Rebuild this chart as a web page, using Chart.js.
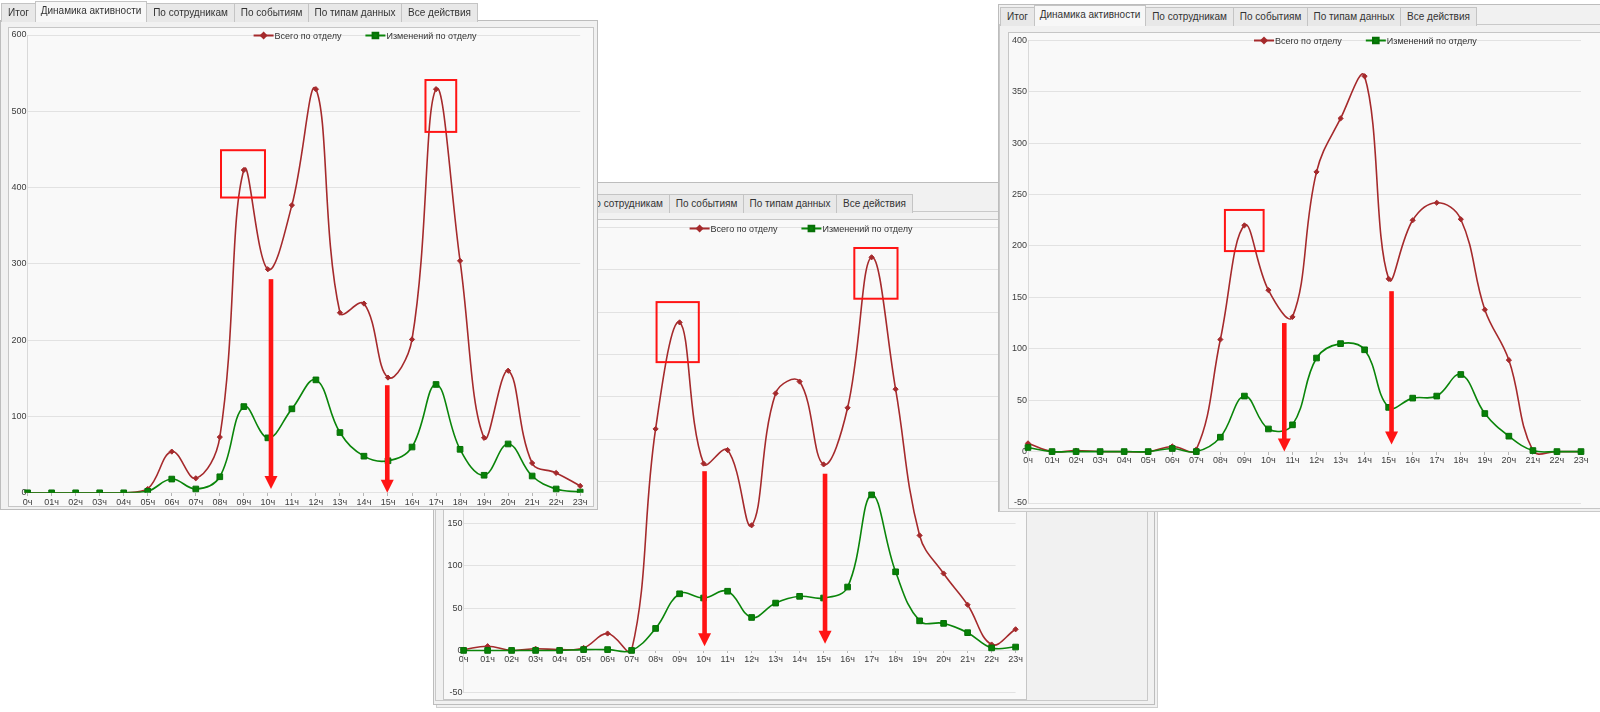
<!DOCTYPE html>
<html>
<head>
<meta charset="utf-8">
<script src="https://cdn.jsdelivr.net/npm/chart.js@4/dist/chart.umd.min.js"></script>
<style>
    body {
        margin: 0;
        width: 1600px;
        height: 712px;
        background: #ffffff;
        position: relative;
        overflow: hidden;
        font-family: "Liberation Sans", Arial, sans-serif;
    }
    .win {
        position: absolute;
        left: 0;
        top: 0;
        width: 1600px;
        height: 712px;
    }
    .frame {
        position: absolute;
        background: #f1f1f1;
        border: 1px solid #bdbdbd;
    }
    .line {
        position: absolute;
        border: 1px solid #c9c9c9;
    }
    .tabs {
        position: absolute;
        display: flex;
        align-items: flex-end;
    }
    .tab {
        box-sizing: border-box;
        height: 19px;
        line-height: 18px;
        border: 1px solid #c4c4c4;
        border-bottom: none;
        margin-right: -1px;
        background: #e8e8e8;
        color: #333;
        font-size: 10px;
        text-align: center;
        white-space: nowrap;
        overflow: hidden;
    }
    .tab.active {
        height: 21px;
        background: #f7f7f7;
    }
    .box {
        position: absolute;
        border: 1px solid #c6c6c6;
        background: #f9f9f9;
    }
    canvas { display: block; }
</style>
</head>
<body>

<!-- middle window (behind) -->
<div class="win" style="z-index:1">
    <div class="frame" style="left:436px;top:186px;width:720px;height:520px;border-color:#cfcfcf"></div>
    <div class="frame" style="left:433px;top:182px;width:720px;height:521px"></div>
    <div class="line" style="left:435px;top:211px;width:711px;height:488px"></div>
    <div class="tabs" id="tabsMid" style="left:436px;top:192px"></div>
    <div class="box" style="left:443px;top:219px;width:582px;height:479px"><canvas id="chartMid" width="582" height="479"></canvas></div>
</div>

<!-- left window -->
<div class="win" style="z-index:2;width:600px;height:512px">
    <div class="frame" style="left:0;top:20px;width:596px;height:488px"></div>
    <div class="tabs" id="tabsLeft" style="left:1px;top:1px"></div>
    <div class="box" style="left:8px;top:27px;width:584px;height:478px"><canvas id="chartLeft" width="584" height="478"></canvas></div>
</div>

<!-- right window -->
<div class="win" style="z-index:3;left:990px;width:610px;height:515px">
    <div class="frame" style="left:8px;top:4px;width:610px;height:506px"></div>
    <div class="line" style="left:9px;top:24px;width:610px;height:486px;border-right:none"></div>
    <div class="tabs" id="tabsRight" style="left:10px;top:5px"></div>
    <div class="box" style="left:18px;top:32px;width:591px;height:475px"><canvas id="chartRight" width="591" height="475"></canvas></div>
</div>

<script>
// ---- data ----
const tabNames = ['Итог', 'Динамика активности', 'По сотрудникам', 'По событиям', 'По типам данных', 'Все действия'];
const tabWidths = [35, 112, 89, 75, 94, 77];

const hours = ['0ч', '01ч', '02ч', '03ч', '04ч', '05ч', '06ч', '07ч', '08ч', '09ч', '10ч', '11ч',
    '12ч', '13ч', '14ч', '15ч', '16ч', '17ч', '18ч', '19ч', '20ч', '21ч', '22ч', '23ч'];
const seriesNames = ['Всего по отделу', 'Изменений по отделу'];

// left screenshot
const leftTotal = [0, 0, 0, 0, 0, 5, 54, 19, 73, 423, 293, 377, 529, 236, 248, 151, 201, 529, 304, 72, 160, 39, 26, 9];
const leftChanged = [0, 0, 0, 0, 0, 2, 18, 5, 21, 113, 72, 110, 148, 79, 48, 42, 60, 142, 57, 23, 64, 22, 5, 1];
const leftTicks = [0, 100, 200, 300, 400, 500, 600];

// middle screenshot
const midTotal = [1, 5, 0, 2, 1, 3, 20, 0, 262, 388, 221, 237, 148, 304, 318, 220, 287, 465, 309, 136, 91, 54, 7, 25];
const midChanged = [0, 0, 0, 0, 0, 1, 1, 0, 26, 67, 62, 70, 39, 56, 64, 62, 75, 184, 93, 35, 32, 21, 3, 4];
const midTicks = [-50, 0, 50, 100, 150, 200, 250, 300, 350, 400, 450, 500];

// right screenshot
const rightTotal = [8, 0, 1, 0, 0, 0, 5, 2, 109, 220, 157, 131, 272, 324, 365, 168, 225, 242, 226, 138, 89, 1, 0, 0];
const rightChanged = [4, 0, 0, 0, 0, 0, 3, 0, 14, 54, 22, 26, 91, 105, 99, 43, 52, 54, 75, 37, 15, 1, 0, 0];
const rightTicks = [-50, 0, 50, 100, 150, 200, 250, 300, 350, 400];

// red marks, in axis units (category index / value)
const leftBoxes = [{ x0: 8.05, x1: 9.88, y0: 387, y1: 449 }, { x0: 16.56, x1: 17.84, y0: 473, y1: 541 }];
const leftArrows = [{ x: 10.13, from: 280, to: 5 }, { x: 14.97, from: 141, to: 0 }];
const midBoxes = [{ x0: 8.04, x1: 9.8, y0: 341, y1: 412 }, { x0: 16.28, x1: 18.08, y0: 416, y1: 476 }];
const midArrows = [{ x: 10.04, from: 212, to: 5 }, { x: 15.06, from: 209, to: 8 }];
const rightBoxes = [{ x0: 8.19, x1: 9.8, y0: 195, y1: 235 }];
const rightArrows = [{ x: 10.66, from: 125, to: 0 }, { x: 15.12, from: 156, to: 7 }];

const FONT = '"Liberation Sans", Arial, sans-serif';

// tabs
function buildTabs(id) {
    const row = document.getElementById(id);
    tabNames.forEach((name, i) => {
        const t = document.createElement('div');
        t.className = 'tab' + (i === 1 ? ' active' : '');
        t.style.width = tabWidths[i] + 'px';
        t.textContent = name;
        row.appendChild(t);
    });
}

// legend drawn inside the plot, on the top gridline
const inlineLegend = {
    id: 'inlineLegend',
    afterDraw(chart, args, opts) {
        const ctx = chart.ctx;
        const area = chart.chartArea;
        let x = area.left + opts.offset;
        const y = Math.round(area.top) + 0.5;
        ctx.save();
        ctx.font = '9px ' + FONT;
        ctx.textBaseline = 'middle';
        chart.data.datasets.forEach(ds => {
            ctx.strokeStyle = ds.borderColor;
            ctx.lineWidth = 2;
            ctx.beginPath();
            ctx.moveTo(x, y);
            ctx.lineTo(x + 20, y);
            ctx.stroke();
            ctx.fillStyle = ds.pointBackgroundColor;
            ctx.strokeStyle = ds.pointBorderColor;
            Chart.helpers.drawPoint(ctx, {
                pointStyle: ds.pointStyle, radius: ds.pointRadius, rotation: 0, borderWidth: 1
            }, x + 10, y);
            ctx.fillStyle = '#333';
            ctx.fillText(ds.label, x + 21, y + 1);
            x += 21 + ctx.measureText(ds.label).width + 24;
        });
        ctx.restore();
    }
};

// red frames and arrows
const redMarks = {
    id: 'redMarks',
    afterDraw(chart, args, opts) {
        const { ctx, scales: { x, y } } = chart;
        ctx.save();
        ctx.strokeStyle = '#ff1414';
        ctx.fillStyle = '#ff1414';
        ctx.lineWidth = 2;
        (opts.boxes || []).forEach(b => {
            const x0 = x.getPixelForValue(b.x0);
            const x1 = x.getPixelForValue(b.x1);
            const y0 = y.getPixelForValue(b.y1);
            const y1 = y.getPixelForValue(b.y0);
            ctx.strokeRect(x0, y0, x1 - x0, y1 - y0);
        });
        (opts.arrows || []).forEach(a => {
            const px = x.getPixelForValue(a.x);
            const top = y.getPixelForValue(a.from);
            const tip = y.getPixelForValue(a.to);
            ctx.fillRect(px - 2.3, top, 4.6, tip - top - 12);
            ctx.beginPath();
            ctx.moveTo(px - 6.5, tip - 13);
            ctx.lineTo(px + 6.5, tip - 13);
            ctx.lineTo(px, tip);
            ctx.closePath();
            ctx.fill();
        });
        ctx.restore();
    }
};

function makeChart(canvasId, total, changed, ticks, pad, yWidth, boxes, arrows) {
    const canvas = document.getElementById(canvasId);
    if (!canvas) {
        console.log(`Chart element ${canvasId} not found`);
        return null;
    }
    return new Chart(canvas.getContext('2d'), {
        type: 'line',
        data: {
            labels: hours,
            datasets: [{
                label: seriesNames[0],
                data: total,
                order: 1,
                borderColor: '#a52a2c',
                borderWidth: 1.6,
                tension: 0.4,
                pointStyle: 'rectRot',
                pointRadius: 2.6,
                pointBackgroundColor: '#a52a2c',
                pointBorderColor: '#a52a2c',
                pointBorderWidth: 1
            }, {
                label: seriesNames[1],
                data: changed,
                order: 0,
                borderColor: '#0a850a',
                borderWidth: 1.6,
                tension: 0.4,
                pointStyle: 'rect',
                pointRadius: 4,
                pointBackgroundColor: '#078107',
                pointBorderColor: '#067006',
                pointBorderWidth: 1
            }]
        },
        options: {
            responsive: false,
            animation: false,
            devicePixelRatio: 1,
            layout: { padding: pad },
            plugins: {
                legend: { display: false },
                tooltip: { enabled: false },
                inlineLegend: { offset: 226 },
                redMarks: { boxes: boxes, arrows: arrows }
            },
            scales: {
                x: {
                    position: { y: 0 },
                    offset: false,
                    afterFit: s => { s.height = 0; s.paddingLeft = 0; s.paddingRight = 0; },
                    grid: { drawOnChartArea: false, drawTicks: true, tickLength: 3, color: '#b5b5b5' },
                    border: { display: false },
                    ticks: {
                        autoSkip: false, maxRotation: 0, padding: 1,
                        color: '#3c3c3c', font: { family: FONT, size: 9 }
                    }
                },
                y: {
                    min: ticks[0],
                    max: ticks[ticks.length - 1],
                    afterFit: s => { s.width = yWidth; s.paddingTop = 0; s.paddingBottom = 0; },
                    afterBuildTicks: s => { s.ticks = ticks.map(v => ({ value: v })); },
                    grid: { color: '#e2e2e2', drawTicks: false },
                    border: { display: true, color: '#d9d9d9' },
                    ticks: {
                        padding: 1, color: '#3c3c3c', font: { family: FONT, size: 9 }
                    }
                }
            }
        },
        plugins: [inlineLegend, redMarks]
    });
}

buildTabs('tabsLeft');
buildTabs('tabsMid');
buildTabs('tabsRight');

makeChart('chartMid', midTotal, midChanged, midTicks,
    { left: 0, top: 7.7, right: 10.4, bottom: 6.3 }, 19.6, midBoxes, midArrows);
makeChart('chartLeft', leftTotal, leftChanged, leftTicks,
    { left: 0, top: 7, right: 12.8, bottom: 13.2 }, 18.6, leftBoxes, leftArrows);
makeChart('chartRight', rightTotal, rightChanged, rightTicks,
    { left: 0, top: 7.3, right: 19, bottom: 2.3 }, 19, rightBoxes, rightArrows);
</script>
</body>
</html>
